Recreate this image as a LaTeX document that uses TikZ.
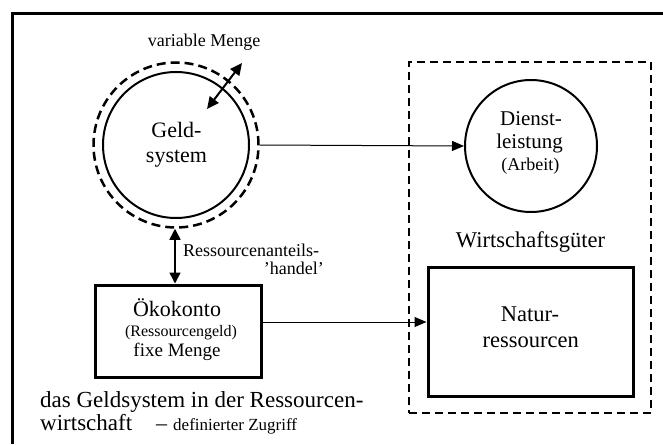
\documentclass[tikz,border=0pt]{standalone}
\usepackage{fontspec}
\setmainfont{Liberation Serif}
\usetikzlibrary{arrows.meta}
\newcommand{\fs}[1]{\fontsize{#1}{#1}\selectfont}
\tikzset{
  txt/.style={inner sep=0pt, anchor=base},
  circ/.style={circle, draw, line width=2pt, inner sep=0pt},
  boxthick/.style={rectangle, draw, line width=3pt, inner sep=0pt},
  conn/.style={line width=1pt, -{Triangle[length=12pt,width=10pt]}},
  dconn/.style={line width=1.5pt, {Triangle[length=11pt,width=11pt]}-{Triangle[length=11pt,width=11pt]}},
  dashpat/.style={dash pattern=on 9pt off 5pt}
}
\begin{document}
\begin{tikzpicture}[x=1pt,y=-1pt]
\useasboundingbox (0,0) rectangle (663,444);
% outer frame (cut off right and bottom)
\draw[line width=3pt] (12,444) -- (12,14) -- (663,14);

% Geldsystem
\node[circ, minimum size=146pt] (geld) at (176,145) {};
\node[circle, draw, line width=2.5pt, dashpat, inner sep=0pt, minimum size=165pt] (geldout) at (176,145) {};
\node[txt] (geldA) at (176.5,137) {\fs{22}Geld-};
\node[txt] (geldB) at (176.5,162) {\fs{22}system};

% variable Menge
\node[txt] (vm) at (204,47) {\fs{18}variable Menge};
\coordinate (vmA) at (207,109);
\coordinate (vmB) at (242,63);
\draw[line width=2pt, {Triangle[length=12pt,width=11pt]}-{Triangle[length=12pt,width=11pt]}] (vmA) -- (vmB);

% Wirtschaftsgueter dashed frame
\node[rectangle, draw, line width=1.3pt, dash pattern=on 8pt off 5pt, inner sep=0pt, minimum width=242pt, minimum height=351pt] (wg) at (530,237.5) {};

% Dienstleistung
\node[circ, minimum size=132pt] (dienst) at (531,146) {};
\node[txt] (d1) at (531,125) {\fs{21}Dienst-};
\node[txt] (d2) at (529.5,148) {\fs{21}leistung};
\node[txt] (d3) at (530.3,170) {\fs{18}(Arbeit)};

\node[txt] (wgt) at (530.5,247) {\fs{22.5}Wirtschaftsgüter};

% Naturressourcen
\node[boxthick, minimum width=205pt, minimum height=129pt] (natur) at (530.5,331.5) {};
\node[txt] (n1) at (530,321) {\fs{22.5}Natur-};
\node[txt] (n2) at (530.8,347) {\fs{22.5}ressourcen};

% Oekokonto
\node[boxthick, minimum width=166pt, minimum height=92pt] (oeko) at (178,331) {};
\node[txt] (o1) at (177,316) {\fs{22}Ökokonto};
\node[txt] (o2) at (181,336) {\fs{16}(Ressourcengeld)};
\node[txt] (o3) at (177,356) {\fs{19}fixe Menge};

% Ressourcenanteils-handel
\node[txt, anchor=base west] (r1) at (183,256) {\fs{18}Ressourcenanteils-};
\node[txt, anchor=base east] (r2) at (324,274) {\fs{18}'handel'};

% bottom text
\node[txt, anchor=base west] (b1) at (40,407) {\fs{23}das Geldsystem in der Ressourcen-};
\node[txt, anchor=base west] (b2) at (40,430) {\fs{23}wirtschaft};
\node[txt, anchor=base west] (b3) at (156,430) {\fs{22}–};
\node[txt, anchor=base west] (b4) at (173,430) {\fs{17}definierter Zugriff};

% connectors
\draw[conn] (geldout.east) -- (dienst.west);
\draw[conn] ([yshift=9pt]oeko.east) -- ([yshift=9pt]oeko.east -| natur.west);
\draw[dconn] ([xshift=-1pt]geldout.south) -- ([xshift=-1pt]geldout.south |- oeko.north);
\end{tikzpicture}
\end{document}
